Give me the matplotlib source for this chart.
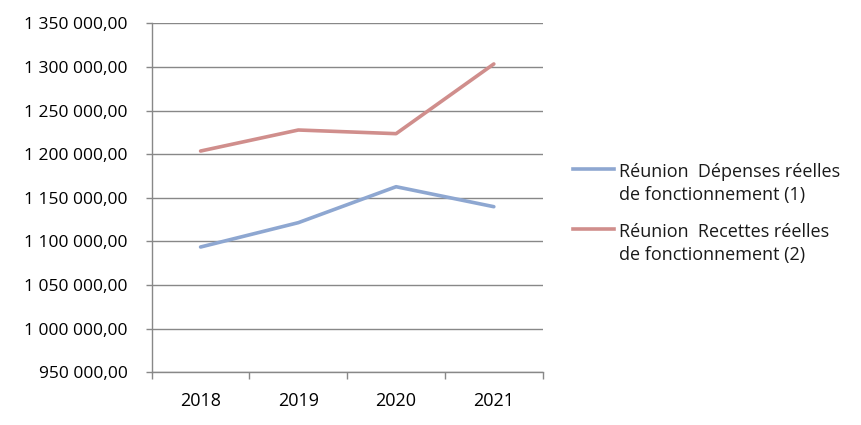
import matplotlib
matplotlib.use("Agg")
import matplotlib.pyplot as plt
from matplotlib.lines import Line2D
from matplotlib.ticker import FuncFormatter, FixedLocator

years = ["2018", "2019", "2020", "2021"]
depenses = [1093600, 1121500, 1162700, 1139800]
recettes = [1203600, 1227700, 1223500, 1303400]
labels = ["Réunion  Dépenses réelles\nde fonctionnement (1)",
          "Réunion  Recettes réelles\nde fonctionnement (2)"]
colors = ["#8EA7D1", "#D08E8C"]

plt.rcParams['font.family'] = ['Open Sans', 'DejaVu Sans']
grid_c = "#888888"
W, H = 862, 425

fig = plt.figure(figsize=(8.62, 4.25), dpi=100)
ax = fig.add_axes([151.7 / W, 1 - 372.3 / H, (542.7 - 151.7) / W, (372.3 - 23.3) / H])

x = list(range(len(years)))
series = [depenses, recettes]
for vals, c in zip(series, colors):
    ax.plot(x, vals, color=c, lw=2.6, solid_capstyle='round')

ax.set_xlim(-0.5, len(years) - 0.5)
ax.set_ylim(950000, 1350000)
ax.yaxis.set_major_locator(FixedLocator([950000 + 50000 * i for i in range(9)]))

def fmt(v, pos):
    return f"{v:,.2f}".replace(",", " ").replace(".", ",")
ax.yaxis.set_major_formatter(FuncFormatter(fmt))

ax.set_xticks([i - 0.5 for i in range(len(years) + 1)])
ax.set_xticklabels([])
ax.set_xticks(x, minor=True)
ax.set_xticklabels(years, minor=True)
ax.tick_params(axis='x', which='minor', length=0, pad=14, labelsize=13)
ax.tick_params(axis='x', which='major', length=4.8, color=grid_c, width=1)
ax.tick_params(axis='y', length=4.3, color=grid_c, width=1, pad=13, labelsize=12.5)

ax.grid(axis='y', color=grid_c, lw=1)
ax.set_axisbelow(True)
for s in ['top', 'right']:
    ax.spines[s].set_visible(False)
for s in ['left', 'bottom']:
    ax.spines[s].set_color(grid_c)
    ax.spines[s].set_linewidth(1)

# legend (manual, to place handle at first text line like the original)
line_y = [169, 229]
base_y = [[177, 199.5], [237, 260]]
for lab, c, ly, bys in zip(labels, colors, line_y, base_y):
    fig.add_artist(Line2D([573 / W, 614 / W], [1 - ly / H, 1 - ly / H],
                          color=c, lw=2.6, transform=fig.transFigure))
    for txt, by in zip(lab.split("\n"), bys):
        fig.text(619 / W, 1 - by / H, txt, fontsize=13, va='baseline', ha='left',
                 color="#1a1a1a")

fig.savefig("out.png", dpi=100)
